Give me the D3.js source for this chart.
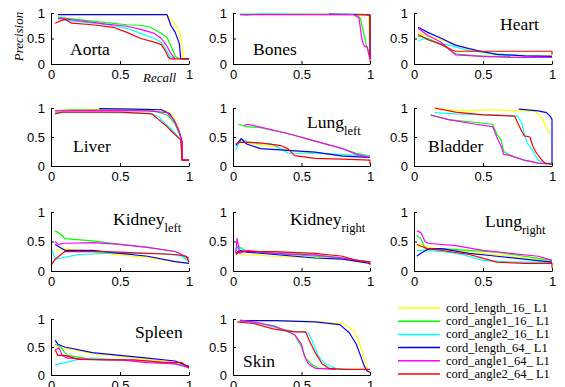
<!DOCTYPE html>
<html><head><meta charset="utf-8">
<script src="https://cdn.jsdelivr.net/npm/d3@7"></script>
<style>
html,body{margin:0;padding:0;background:#fff;}
svg{display:block;}
</style></head>
<body>
<svg id="chart" width="565" height="387"></svg>
<script>
// ---------- data ----------
const seriesNames = ["cord_length_16_ L1","cord_angle1_16_ L1","cord_angle2_16_ L1","cord_length_64_ L1","cord_angle1_64_ L1","cord_angle2_64_ L1"];
const seriesColors = ["#ffff00","#00ff00","#00ffff","#0000ff","#ff00ff","#ff0000"];
const tickValues = [0, 0.5, 1];
const tickLabels = ["0", "0.5", "1"];

// each panel: [yellow, green, cyan, blue, magenta, red], points are [recall, precision]
const aorta = [
  [[0.05,0.97],[0.84,0.97],[0.88,0.85],[0.91,0.74],[0.94,0.55],[0.95,0.35],[0.96,0.11],[1,0.1]],
  [[0.05,0.92],[0.2,0.87],[0.4,0.81],[0.55,0.77],[0.65,0.76],[0.72,0.72],[0.8,0.6],[0.84,0.52],[0.87,0.35],[0.9,0.15],[0.93,0.1]],
  [[0.05,0.87],[0.2,0.83],[0.4,0.77],[0.55,0.7],[0.65,0.6],[0.75,0.5],[0.8,0.42],[0.83,0.3],[0.86,0.15],[0.9,0.1]],
  [[0.05,0.97],[0.84,0.97],[0.87,0.75],[0.9,0.62],[0.93,0.4],[0.94,0.1],[1,0.1]],
  [[0.05,0.9],[0.2,0.85],[0.4,0.78],[0.55,0.74],[0.65,0.68],[0.75,0.6],[0.8,0.5],[0.84,0.35],[0.87,0.2],[0.9,0.1]],
  [[0.03,0.8],[0.1,0.88],[0.15,0.8],[0.3,0.77],[0.45,0.72],[0.55,0.62],[0.65,0.5],[0.75,0.43],[0.8,0.38],[0.83,0.25],[0.85,0.13],[0.87,0.1],[1,0.1]]
];
const bones = [
  [[0.05,0.98],[0.7,0.98],[0.95,0.97],[0.99,0.96],[1,0.1]],
  [[0.05,0.97],[0.1,0.96],[0.2,0.98],[0.9,0.97],[0.93,0.9],[0.95,0.65],[0.97,0.4],[0.98,0.3],[0.99,0.25],[1,0.1]],
  [[0.05,0.98],[0.97,0.97],[1,0.95],[1,0.1]],
  [[0.7,0.98],[0.97,0.97],[1,0.96],[1,0.1]],
  [[0.05,0.97],[0.88,0.97],[0.92,0.9],[0.94,0.5],[0.95,0.4],[0.96,0.35],[0.98,0.33],[0.99,0.2],[1,0.1]],
  [[0.9,0.97],[0.99,0.97],[1,0.96],[1,0.05]]
];
const heart = [
  [[0.03,0.62],[0.1,0.55],[0.2,0.47],[0.3,0.38],[0.4,0.28],[0.5,0.22],[0.6,0.18],[0.8,0.17],[1,0.17]],
  [[0.03,0.55],[0.1,0.5],[0.2,0.38],[0.25,0.3],[0.3,0.2],[0.5,0.15],[0.7,0.15]],
  [[0.03,0.45],[0.07,0.5],[0.15,0.43],[0.25,0.37],[0.4,0.26],[0.6,0.2],[0.8,0.16],[1,0.15]],
  [[0.03,0.72],[0.1,0.62],[0.2,0.5],[0.3,0.37],[0.4,0.3],[0.5,0.24],[0.6,0.19],[0.8,0.16],[1,0.15]],
  [[0.03,0.7],[0.1,0.56],[0.2,0.42],[0.25,0.3],[0.3,0.18],[0.5,0.15],[0.7,0.13],[1,0.13]],
  [[0.03,0.58],[0.1,0.48],[0.2,0.38],[0.28,0.27],[0.3,0.25],[0.7,0.25],[1,0.25],[1,0.18]]
];
const liver = [
  [[0.03,0.96],[0.4,0.98],[0.75,0.98],[0.83,0.96],[0.88,0.88],[0.92,0.7],[0.95,0.45]],
  [[0.03,0.95],[0.15,0.97],[0.5,0.96],[0.75,0.95],[0.85,0.87],[0.9,0.72],[0.94,0.5]],
  [[0.03,0.92],[0.4,0.92],[0.72,0.91],[0.78,0.85],[0.83,0.72],[0.88,0.62],[0.93,0.48]],
  [[0.35,0.99],[0.6,0.98],[0.8,0.97],[0.86,0.9],[0.9,0.75],[0.93,0.58],[0.95,0.42],[0.95,0.1],[1,0.1]],
  [[0.03,0.95],[0.3,0.96],[0.7,0.95],[0.84,0.92],[0.89,0.8],[0.93,0.58],[0.95,0.4],[0.95,0.1],[1,0.1]],
  [[0.03,0.9],[0.08,0.93],[0.5,0.93],[0.73,0.9],[0.78,0.8],[0.84,0.68],[0.89,0.56],[0.94,0.45],[0.95,0.1],[1,0.1]]
];
const lungLeft = [
  [[0.02,0.38],[0.05,0.42],[0.15,0.38],[0.3,0.33],[0.4,0.27],[0.6,0.22],[0.8,0.18],[1,0.15]],
  [[0.04,0.72],[0.1,0.68],[0.2,0.66],[0.4,0.56],[0.6,0.43],[0.8,0.3],[0.9,0.22],[1,0.17]],
  [[0.02,0.28],[0.06,0.47],[0.1,0.42],[0.2,0.38],[0.27,0.39],[0.35,0.3],[0.4,0.22],[0.6,0.22],[0.8,0.2],[1,0.17]],
  [[0.02,0.35],[0.06,0.47],[0.1,0.38],[0.2,0.3],[0.4,0.27],[0.6,0.24],[0.8,0.17],[1,0.15]],
  [[0.08,0.7],[0.11,0.72],[0.2,0.67],[0.4,0.56],[0.6,0.43],[0.8,0.3],[0.9,0.2],[1,0.15]],
  [[0.02,0.38],[0.05,0.41],[0.2,0.4],[0.35,0.35],[0.4,0.3],[0.45,0.18],[0.6,0.13],[0.8,0.12],[1,0.1],[1,0.03]]
];
const bladder = [
  [[0.15,0.98],[0.4,0.95],[0.5,0.97],[0.7,0.96],[0.88,0.94],[0.93,0.82],[0.96,0.65],[0.99,0.55]],
  [[0.12,0.88],[0.25,0.8],[0.45,0.75],[0.57,0.72],[0.6,0.55],[0.63,0.45],[0.65,0.25],[0.7,0.18],[0.8,0.1],[0.9,0.05],[1,0.03]],
  [[0.15,0.92],[0.3,0.9],[0.6,0.88],[0.75,0.86],[0.78,0.75],[0.8,0.55],[0.82,0.4],[0.85,0.3],[0.9,0.1],[0.95,0.05],[1,0.05]],
  [[0.76,0.98],[0.9,0.95],[0.96,0.92],[0.99,0.85],[1,0.8],[1,0.02]],
  [[0.12,0.88],[0.25,0.8],[0.45,0.72],[0.57,0.68],[0.6,0.5],[0.63,0.35],[0.65,0.2],[0.7,0.18],[0.8,0.1],[0.9,0.05],[1,0.03]],
  [[0.15,1.0],[0.3,0.93],[0.5,0.88],[0.73,0.86],[0.75,0.75],[0.78,0.6],[0.8,0.52],[0.84,0.5],[0.86,0.35],[0.88,0.25],[0.92,0.12],[0.95,0.05],[1,0.03]]
];
const kidneyLeft = [
  [[0.03,0.35],[0.1,0.38],[0.3,0.33],[0.5,0.27],[0.7,0.23],[0.9,0.15],[1,0.13]],
  [[0.03,0.68],[0.06,0.64],[0.1,0.55],[0.3,0.51],[0.5,0.45],[0.7,0.4],[0.9,0.33],[1,0.2]],
  [[0.01,0.35],[0.03,0.2],[0.1,0.23],[0.2,0.28],[0.4,0.3],[0.6,0.3],[0.8,0.3],[0.95,0.25],[1,0.15]],
  [[0.03,0.45],[0.1,0.35],[0.3,0.35],[0.5,0.3],[0.7,0.25],[0.9,0.16],[1,0.13]],
  [[0.03,0.5],[0.05,0.45],[0.1,0.47],[0.3,0.48],[0.5,0.45],[0.7,0.4],[0.9,0.33],[1,0.22]],
  [[0,0.1],[0.03,0.2],[0.1,0.33],[0.3,0.33],[0.5,0.32],[0.7,0.3],[0.9,0.28],[0.98,0.25],[1,0.15]]
];
const kidneyRight = [
  [[0.02,0.3],[0.1,0.28],[0.3,0.25],[0.6,0.22],[0.8,0.2],[1,0.13]],
  [[0.02,0.38],[0.04,0.42],[0.1,0.33],[0.3,0.3],[0.6,0.25],[0.8,0.22],[1,0.15]],
  [[0.02,0.35],[0.05,0.4],[0.1,0.32],[0.3,0.32],[0.6,0.28],[0.8,0.22],[1,0.15]],
  [[0.02,0.3],[0.05,0.35],[0.1,0.32],[0.3,0.28],[0.6,0.22],[0.8,0.2],[1,0.13]],
  [[0.02,0.3],[0.03,0.55],[0.05,0.3],[0.1,0.35],[0.3,0.3],[0.6,0.27],[0.8,0.22],[1,0.15]],
  [[0.02,0.28],[0.05,0.33],[0.3,0.33],[0.6,0.3],[0.8,0.25],[0.9,0.18],[1,0.15],[1,0.1]]
];
const lungRight = [
  [[0.02,0.4],[0.05,0.45],[0.1,0.4],[0.3,0.35],[0.5,0.3],[0.7,0.25],[0.9,0.2],[1,0.15]],
  [[0.02,0.6],[0.05,0.55],[0.08,0.38],[0.2,0.38],[0.4,0.35],[0.6,0.32],[0.8,0.25],[1,0.18]],
  [[0.02,0.35],[0.1,0.35],[0.2,0.33],[0.35,0.28],[0.5,0.18],[0.7,0.15],[1,0.15]],
  [[0.02,0.25],[0.05,0.3],[0.1,0.37],[0.2,0.38],[0.4,0.3],[0.6,0.25],[0.8,0.2],[1,0.15]],
  [[0.02,0.68],[0.05,0.65],[0.08,0.5],[0.1,0.47],[0.3,0.43],[0.5,0.35],[0.7,0.3],[0.9,0.25],[1,0.18]],
  [[0.02,0.45],[0.05,0.42],[0.1,0.38],[0.2,0.35],[0.4,0.28],[0.6,0.15],[0.8,0.13],[1,0.13],[1,0.05]]
];
const spleen = [
  [[0.03,0.5],[0.1,0.48],[0.3,0.38],[0.5,0.33],[0.7,0.28],[0.9,0.22],[1,0.15]],
  [[0.03,0.55],[0.07,0.5],[0.1,0.4],[0.12,0.35],[0.3,0.28],[0.5,0.27],[0.7,0.25],[0.9,0.2],[1,0.15]],
  [[0.03,0.18],[0.1,0.22],[0.2,0.28],[0.3,0.3],[0.5,0.27],[0.7,0.25],[0.9,0.2],[1,0.15]],
  [[0.03,0.62],[0.05,0.55],[0.1,0.5],[0.3,0.4],[0.5,0.35],[0.7,0.3],[0.9,0.25],[1,0.15]],
  [[0.03,0.45],[0.06,0.48],[0.08,0.35],[0.12,0.3],[0.3,0.28],[0.5,0.27],[0.7,0.22],[0.9,0.2],[1,0.13]],
  [[0.03,0.45],[0.05,0.35],[0.1,0.35],[0.2,0.28],[0.4,0.27],[0.6,0.27],[0.8,0.23],[0.95,0.22],[1,0.12]]
];
const skin = [
  [[0.05,0.97],[0.3,0.97],[0.6,0.96],[0.8,0.92],[0.88,0.8],[0.92,0.6],[0.95,0.35],[0.98,0.1],[1,0.07]],
  [[0.05,0.97],[0.3,0.88],[0.45,0.72],[0.5,0.5],[0.53,0.3],[0.57,0.2],[0.62,0.12],[0.75,0.12]],
  [[0.05,0.95],[0.2,0.92],[0.35,0.82],[0.45,0.78],[0.55,0.75],[0.58,0.6],[0.62,0.35],[0.67,0.2],[0.75,0.12],[0.85,0.1]],
  [[0.05,0.97],[0.3,0.97],[0.6,0.95],[0.78,0.9],[0.85,0.75],[0.9,0.55],[0.93,0.35],[0.96,0.15],[0.98,0.07],[1,0.05]],
  [[0.05,0.98],[0.15,0.95],[0.3,0.87],[0.4,0.78],[0.45,0.72],[0.5,0.55],[0.52,0.35],[0.55,0.2],[0.6,0.12],[0.75,0.1]],
  [[0.03,0.95],[0.15,0.92],[0.3,0.82],[0.45,0.77],[0.53,0.77],[0.56,0.6],[0.6,0.4],[0.65,0.2],[0.7,0.12],[0.8,0.1],[1,0.1]]
];

const panelData = [aorta, bones, heart, liver, lungLeft, bladder, kidneyLeft, kidneyRight, lungRight, spleen, skin];
const panelTitles = ["Aorta","Bones","Heart","Liver","Lung","Bladder","Kidney","Kidney","Lung","Spleen","Skin"];
const panelSubs   = ["","","","","left","","left","right","right","",""];

// ---------- layout ----------
const colX = [[51,189],[233,370],[414,552]];
const rowY = [[13,64],[108,166],[212,271],[319,375]];
// title anchor offsets relative to the panel's top-left (px)
const titlePos = [[19,42],[20,42],[86,17],[22,44],[74,20],[14,44],[62,13],[57,13],[71,15],[84,19],[10,48]];

const svg = d3.select("#chart");
const tickFont = "'Liberation Sans', Arial, sans-serif";
const serif = "'Liberation Serif', 'Times New Roman', serif";

panelData.forEach((curves, i) => {
  const r = Math.floor(i / 3), c = i % 3;
  const [x0, x1] = colX[c];
  const [y0, y1] = rowY[r];
  const x = d3.scaleLinear().domain([0,1]).range([x0, x1]);
  const y = d3.scaleLinear().domain([0,1]).range([y1, y0]);
  const g = svg.append("g");

  // curves
  const line = d3.line().x(d => x(d[0])).y(d => y(d[1]));
  curves.forEach((pts, s) => {
    g.append("path").attr("d", line(pts))
      .attr("fill","none").attr("stroke", seriesColors[s])
      .attr("stroke-width", 1.2).attr("stroke-linejoin","round");
  });

  // axes
  const xAxis = d3.axisBottom(x).tickValues(tickValues).tickFormat((d,k)=>tickLabels[k]).tickSizeInner(-3).tickSizeOuter(0).tickPadding(6);
  const yAxis = d3.axisLeft(y).tickValues(tickValues).tickFormat((d,k)=>tickLabels[k]).tickSizeInner(-3).tickSizeOuter(0).tickPadding(6);
  const gx = g.append("g").attr("transform", `translate(0,${y1})`).call(xAxis);
  const gy = g.append("g").attr("transform", `translate(${x0},0)`).call(yAxis);
  [gx, gy].forEach(a => {
    a.select(".domain").attr("stroke","#000").attr("stroke-width",1);
    a.selectAll(".tick line").attr("stroke","#000");
    a.selectAll(".tick text").attr("fill","#000").style("font-family", tickFont).style("font-size","13px");
  });

  // title
  const t = g.append("text")
    .attr("x", x0 + titlePos[i][0]).attr("y", y0 + titlePos[i][1])
    .style("font-family", serif).style("font-size","17.5px").attr("fill","#000")
    .text(panelTitles[i]);
  if (panelSubs[i]) {
    t.append("tspan").attr("dy", 7).style("font-size","12.5px").text(panelSubs[i]);
  }

  if (i === 0) {
    g.append("text").attr("transform", `translate(23,${(y0+y1)/2 - 2}) rotate(-90)`)
      .attr("text-anchor","middle")
      .style("font-family", serif).style("font-style","italic").style("font-size","13px")
      .text("Precision");
    g.append("text").attr("x", 143).attr("y", y1 + 18)
      .style("font-family", serif).style("font-style","italic").style("font-size","13px")
      .text("Recall");
  }
});

// legend
const legendY = d3.scaleLinear().domain([0,5]).range([308,374]);
const lg = svg.append("g");
seriesNames.forEach((name, s) => {
  const yy = legendY(s);
  lg.append("line").attr("x1",398).attr("x2",440).attr("y1",yy).attr("y2",yy)
    .attr("stroke", seriesColors[s]).attr("stroke-width",1.5);
  lg.append("text").attr("x",446).attr("y",yy+4)
    .style("font-family", serif).style("font-size","12.5px").attr("fill","#000")
    .text(name);
});
</script>
</body></html>
